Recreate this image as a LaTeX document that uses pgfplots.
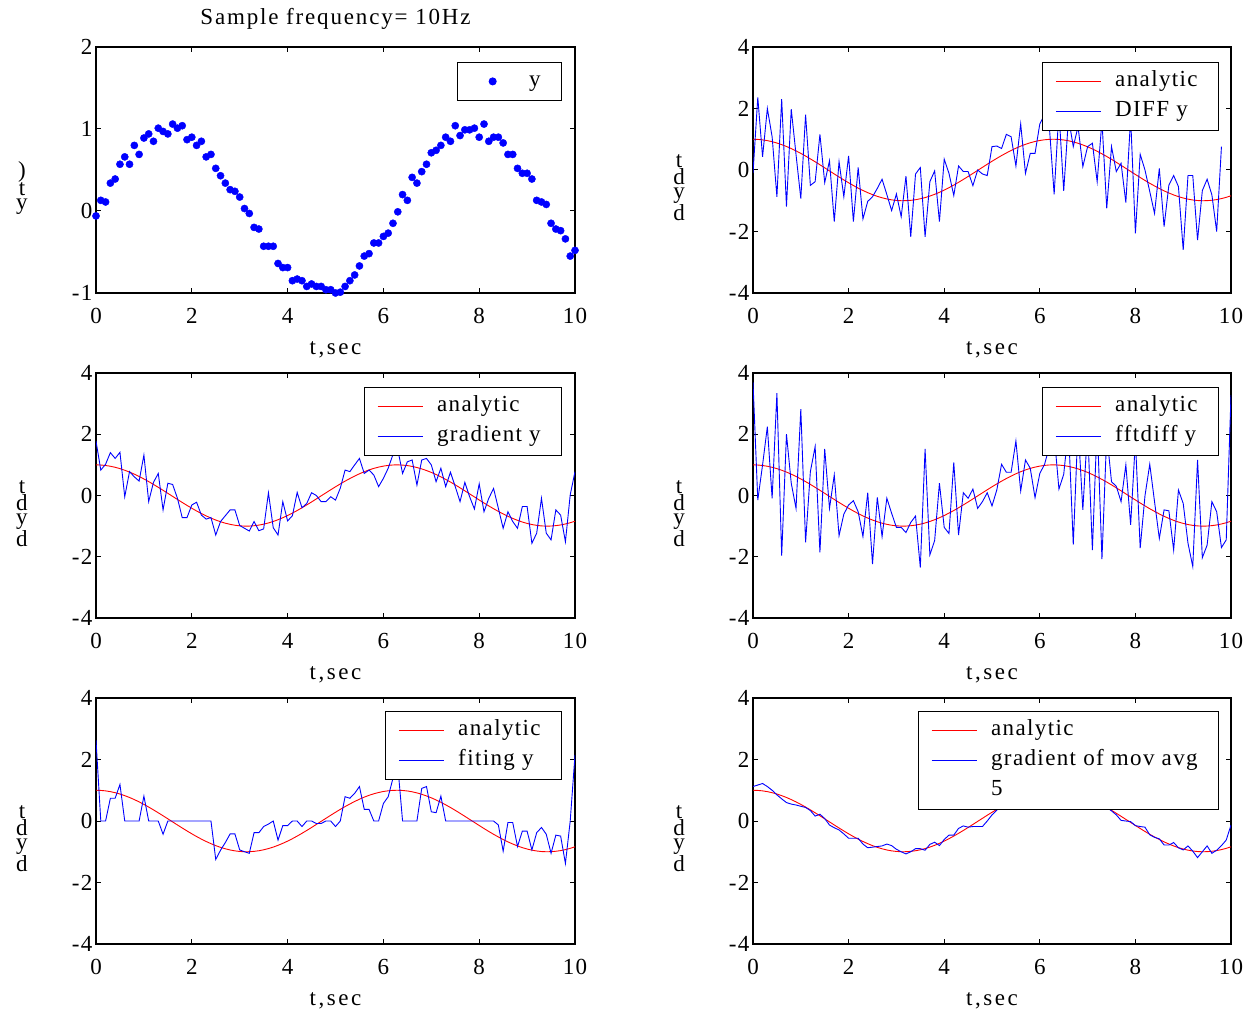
\documentclass[border=0pt]{standalone}
\usepackage{pgfplots}
\pgfplotsset{compat=1.18}
\usepackage{pgfplotstable}
\usepackage{fontspec}
\setmainfont{Liberation Serif}[LetterSpace=6]
\newfontfamily\titlefont{Liberation Serif}[LetterSpace=8]
\newfontfamily\labelfont{Liberation Serif}[LetterSpace=11]
\newcommand{\plotfont}{\fontsize{23}{27}\selectfont}
% legend text with the trailing room of the boxed legends
\newcommand{\entry}[1]{#1\hspace*{8pt}}

% analytic derivative, shared by every derivative panel
\pgfplotstableread{
t v
0.0 1.000
0.1 0.995
0.2 0.980
0.3 0.955
0.4 0.921
0.5 0.878
0.6 0.825
0.7 0.765
0.8 0.697
0.9 0.622
1.0 0.540
1.1 0.454
1.2 0.362
1.3 0.267
1.4 0.170
1.5 0.071
1.6 -0.029
1.7 -0.129
1.8 -0.227
1.9 -0.323
2.0 -0.416
2.1 -0.505
2.2 -0.589
2.3 -0.666
2.4 -0.737
2.5 -0.801
2.6 -0.857
2.7 -0.904
2.8 -0.942
2.9 -0.971
3.0 -0.990
3.1 -0.999
3.2 -0.998
3.3 -0.987
3.4 -0.967
3.5 -0.936
3.6 -0.897
3.7 -0.848
3.8 -0.791
3.9 -0.726
4.0 -0.654
4.1 -0.575
4.2 -0.490
4.3 -0.401
4.4 -0.307
4.5 -0.211
4.6 -0.112
4.7 -0.012
4.8 0.087
4.9 0.187
5.0 0.284
5.1 0.378
5.2 0.469
5.3 0.554
5.4 0.635
5.5 0.709
5.6 0.776
5.7 0.835
5.8 0.886
5.9 0.927
6.0 0.960
6.1 0.983
6.2 0.997
6.3 1.000
6.4 0.993
6.5 0.977
6.6 0.950
6.7 0.914
6.8 0.869
6.9 0.815
7.0 0.754
7.1 0.685
7.2 0.608
7.3 0.526
7.4 0.439
7.5 0.347
7.6 0.251
7.7 0.153
7.8 0.053
7.9 -0.046
8.0 -0.146
8.1 -0.244
8.2 -0.340
8.3 -0.432
8.4 -0.519
8.5 -0.602
8.6 -0.679
8.7 -0.748
8.8 -0.811
8.9 -0.866
9.0 -0.911
9.1 -0.948
9.2 -0.975
9.3 -0.993
9.4 -1.000
9.5 -0.997
9.6 -0.984
9.7 -0.962
9.8 -0.930
9.9 -0.889
10.0 -0.839
}\analytic

% noisy samples y(t)
\pgfplotstableread{
t v
0.0 -0.06
0.1 0.13
0.2 0.11
0.3 0.34
0.4 0.39
0.5 0.57
0.6 0.66
0.7 0.57
0.8 0.80
0.9 0.69
1.0 0.89
1.1 0.94
1.2 0.85
1.3 1.01
1.4 0.97
1.5 0.94
1.6 1.06
1.7 1.01
1.8 1.04
1.9 0.87
2.0 0.90
2.1 0.80
2.2 0.85
2.3 0.66
2.4 0.69
2.5 0.52
2.6 0.43
2.7 0.34
2.8 0.26
2.9 0.24
3.0 0.17
3.1 0.03
3.2 -0.03
3.3 -0.20
3.4 -0.22
3.5 -0.43
3.6 -0.43
3.7 -0.43
3.8 -0.64
3.9 -0.69
4.0 -0.69
4.1 -0.85
4.2 -0.83
4.3 -0.85
4.4 -0.92
4.5 -0.89
4.6 -0.92
4.7 -0.92
4.8 -0.96
4.9 -0.96
5.0 -1.00
5.1 -0.99
5.2 -0.92
5.3 -0.85
5.4 -0.78
5.5 -0.67
5.6 -0.55
5.7 -0.52
5.8 -0.39
5.9 -0.39
6.0 -0.31
6.1 -0.27
6.2 -0.15
6.3 -0.01
6.4 0.20
6.5 0.13
6.6 0.41
6.7 0.34
6.8 0.48
6.9 0.57
7.0 0.71
7.1 0.74
7.2 0.80
7.3 0.90
7.4 0.85
7.5 1.04
7.6 0.92
7.7 0.99
7.8 0.99
7.9 1.01
8.0 0.90
8.1 1.06
8.2 0.85
8.3 0.90
8.4 0.90
8.5 0.83
8.6 0.69
8.7 0.69
8.8 0.52
8.9 0.46
9.0 0.46
9.1 0.39
9.2 0.13
9.3 0.11
9.4 0.08
9.5 -0.15
9.6 -0.22
9.7 -0.24
9.8 -0.34
9.9 -0.55
10.0 -0.48
}\sampled

% forward difference
\pgfplotstableread{
t v
0.0 -0.10
0.1 2.36
0.2 0.43
0.3 2.00
0.4 1.08
0.5 -0.87
0.6 2.30
0.7 -1.19
0.8 1.98
0.9 0.50
1.0 -0.93
1.1 1.80
1.2 -0.50
1.3 -0.38
1.4 1.16
1.5 -0.41
1.6 0.30
1.7 -1.68
1.8 0.27
1.9 -0.87
2.0 0.46
2.1 -1.68
2.2 0.08
2.3 -1.59
2.4 -1.02
2.5 -0.87
2.6 -0.60
2.7 -0.30
2.8 -0.80
2.9 -1.32
3.0 -0.78
3.1 -1.52
3.2 -0.20
3.3 -2.17
3.4 -0.13
3.5 0.08
3.6 -2.17
3.7 -0.38
3.8 -0.03
3.9 -1.68
4.0 0.35
4.1 -0.11
4.2 -0.83
4.3 0.13
4.4 -0.05
4.5 -0.05
4.6 -0.51
4.7 0.00
4.8 -0.13
4.9 -0.18
5.0 0.76
5.1 0.78
5.2 0.70
5.3 1.16
5.4 1.08
5.5 0.13
5.6 1.50
5.7 -0.11
5.8 0.54
5.9 0.54
6.0 1.50
6.1 1.80
6.2 1.40
6.3 -0.79
6.4 1.90
6.5 -0.68
6.6 1.70
6.7 0.76
6.8 1.41
6.9 0.11
7.0 0.76
7.1 0.87
7.2 -0.38
7.3 1.60
7.4 -1.25
7.5 0.76
7.6 -0.05
7.7 0.22
7.8 -1.06
7.9 1.70
8.0 -2.06
8.1 0.51
8.2 0.00
8.3 -0.70
8.4 -1.41
8.5 0.05
8.6 -1.84
8.7 -0.49
8.8 -0.18
8.9 -0.54
9.0 -2.60
9.1 -0.18
9.2 -0.18
9.3 -2.28
9.4 -0.67
9.5 -0.30
9.6 -0.81
9.7 -2.00
9.8 0.76
}\diffy

% central-difference gradient
\pgfplotstableread{
t v
0.0 1.78
0.1 0.83
0.2 1.02
0.3 1.40
0.4 1.21
0.5 1.41
0.6 -0.04
0.7 0.78
0.8 0.61
0.9 0.47
1.0 1.32
1.1 -0.20
1.2 0.43
1.3 0.72
1.4 -0.47
1.5 0.40
1.6 0.36
1.7 -0.09
1.8 -0.72
1.9 -0.72
2.0 -0.31
2.1 -0.22
2.2 -0.64
2.3 -0.77
2.4 -0.72
2.5 -1.29
2.6 -0.85
2.7 -0.66
2.8 -0.47
2.9 -0.47
3.0 -0.98
3.1 -1.07
3.2 -1.16
3.3 -0.85
3.4 -1.15
3.5 -1.09
3.6 0.09
3.7 -1.05
3.8 -1.29
3.9 -0.20
4.0 -0.83
4.1 -0.66
4.2 0.10
4.3 -0.40
4.4 -0.26
4.5 0.09
4.6 0.00
4.7 -0.20
4.8 -0.20
4.9 -0.04
5.0 -0.15
5.1 0.24
5.2 0.83
5.3 0.78
5.4 1.00
5.5 1.21
5.6 0.72
5.7 0.83
5.8 0.67
5.9 0.29
6.0 0.56
6.1 0.89
6.2 1.34
6.3 1.50
6.4 0.72
6.5 1.10
6.6 1.16
6.7 0.34
6.8 1.16
6.9 1.21
7.0 1.00
7.1 0.45
7.2 0.89
7.3 0.29
7.4 0.76
7.5 0.29
7.6 -0.20
7.7 0.43
7.8 -0.04
7.9 -0.44
8.0 0.38
8.1 -0.53
8.2 -0.09
8.3 0.23
8.4 -0.42
8.5 -1.07
8.6 -0.53
8.7 -0.85
8.8 -1.07
8.9 -0.36
9.0 -0.36
9.1 -1.56
9.2 -1.23
9.3 -0.09
9.4 -1.23
9.5 -1.45
9.6 -0.47
9.7 -0.64
9.8 -1.51
9.9 0.02
10.0 0.78
}\grady

% spectral derivative
\pgfplotstableread{
t v
0.0 3.70
0.1 -0.15
0.2 1.00
0.3 2.25
0.4 -0.09
0.5 3.34
0.6 -1.96
0.7 2.00
0.8 0.40
0.9 -0.42
1.0 2.82
1.1 -1.53
1.2 0.78
1.3 1.60
1.4 -1.86
1.5 1.52
1.6 -0.42
1.7 0.67
1.8 -1.31
1.9 -0.61
2.0 -0.31
2.1 -0.17
2.2 -0.53
2.3 -1.34
2.4 0.09
2.5 -2.24
2.6 -0.06
2.7 -1.34
2.8 -0.09
2.9 -0.58
3.0 -1.04
3.1 -1.04
3.2 -1.21
3.3 -0.88
3.4 -0.67
3.5 -2.35
3.6 1.52
3.7 -1.94
3.8 -1.47
3.9 0.40
4.0 -1.04
4.1 -1.24
4.2 1.08
4.3 -1.29
4.4 0.09
4.5 -0.09
4.6 0.21
4.7 -0.42
4.8 -0.20
4.9 0.09
5.0 -0.34
5.1 0.18
5.2 1.02
5.3 0.76
5.4 0.76
5.5 1.78
5.6 0.15
5.7 1.16
5.8 0.89
5.9 -0.07
6.0 0.72
6.1 1.02
6.2 1.60
6.3 2.00
6.4 0.21
6.5 0.69
6.6 2.20
6.7 -1.60
6.8 2.30
6.9 -0.47
7.0 2.20
7.1 -1.78
7.2 2.40
7.3 -2.08
7.4 2.00
7.5 0.45
7.6 0.30
7.7 -0.20
7.8 1.00
7.9 -0.96
8.0 1.80
8.1 -1.72
8.2 -0.01
8.3 1.02
8.4 -0.20
8.5 -1.40
8.6 -0.47
8.7 -0.50
8.8 -1.78
8.9 0.18
9.0 -0.26
9.1 -1.56
9.2 -2.32
9.3 1.16
9.4 -2.03
9.5 -1.62
9.6 -0.20
9.7 -0.53
9.8 -1.70
9.9 -1.45
10.0 3.28
}\fftdiffy

% local polynomial fit
\pgfplotstableread{
t v
0.0 2.63
0.1 0
0.2 0
0.3 0.74
0.4 0.74
0.5 1.19
0.6 0
0.7 0
0.8 0
0.9 0
1.0 0.81
1.1 0
1.2 0
1.3 0
1.4 -0.43
1.5 0
1.6 0
1.7 0
1.8 0
1.9 0
2.0 0
2.1 0
2.2 0
2.3 0
2.4 0
2.5 -1.25
2.6 -0.95
2.7 -0.70
2.8 -0.42
2.9 -0.42
3.0 -0.94
3.1 -1.00
3.2 -1.05
3.3 -0.38
3.4 -0.38
3.5 -0.18
3.6 -0.10
3.7 0
3.8 -0.62
3.9 -0.15
4.0 -0.15
4.1 0
4.2 0
4.3 -0.18
4.4 0
4.5 0
4.6 -0.08
4.7 -0.08
4.8 0
4.9 0
5.0 -0.18
5.1 0
5.2 0.79
5.3 0.74
5.4 0.90
5.5 1.12
5.6 0.38
5.7 0.38
5.8 0
5.9 0
6.0 0.57
6.1 0.79
6.2 1.39
6.3 1.80
6.4 0
6.5 0
6.6 0
6.7 0
6.8 1.06
6.9 1.12
7.0 0.30
7.1 0.27
7.2 0.81
7.3 0
7.4 0
7.5 0
7.6 0
7.7 0
7.8 0
7.9 0
8.0 0
8.1 0
8.2 0
8.3 0
8.4 -0.13
8.5 -0.98
8.6 -0.05
8.7 -0.05
8.8 -0.83
8.9 -0.33
9.0 -0.33
9.1 -0.94
9.2 -0.38
9.3 -0.21
9.4 -0.43
9.5 -1.05
9.6 -0.46
9.7 -0.49
9.8 -1.38
9.9 0
10.0 2.15
}\fity

% gradient of the 5-point moving average
\pgfplotstableread{
t v
0.0 1.12
0.1 1.17
0.2 1.22
0.3 1.12
0.4 1.00
0.5 0.85
0.6 0.72
0.7 0.60
0.8 0.55
0.9 0.52
1.0 0.48
1.1 0.44
1.2 0.34
1.3 0.16
1.4 0.22
1.5 0.08
1.6 -0.13
1.7 -0.22
1.8 -0.29
1.9 -0.42
2.0 -0.56
2.1 -0.56
2.2 -0.56
2.3 -0.75
2.4 -0.87
2.5 -0.85
2.6 -0.83
2.7 -0.81
2.8 -0.75
2.9 -0.80
3.0 -0.92
3.1 -1.00
3.2 -1.07
3.3 -1.00
3.4 -0.90
3.5 -0.90
3.6 -0.95
3.7 -0.76
3.8 -0.69
3.9 -0.80
4.0 -0.60
4.1 -0.46
4.2 -0.46
4.3 -0.24
4.4 -0.16
4.5 -0.20
4.6 -0.18
4.7 -0.18
4.8 -0.18
4.9 0.00
5.0 0.20
5.1 0.35
5.2 0.50
5.3 0.60
5.4 0.66
5.5 0.72
5.6 0.80
5.7 0.85
5.8 0.90
5.9 0.93
6.0 0.97
6.1 0.98
6.2 1.00
6.3 1.02
6.4 0.99
6.5 0.97
6.6 0.95
6.7 0.90
6.8 0.86
6.9 0.80
7.0 0.75
7.1 0.68
7.2 0.60
7.3 0.52
7.4 0.44
7.5 0.33
7.6 0.20
7.7 0.02
7.8 0.00
7.9 -0.02
8.0 -0.15
8.1 -0.18
8.2 -0.20
8.3 -0.45
8.4 -0.53
8.5 -0.58
8.6 -0.78
8.7 -0.78
8.8 -0.70
8.9 -0.87
9.0 -0.94
9.1 -0.81
9.2 -0.98
9.3 -1.19
9.4 -1.00
9.5 -0.81
9.6 -1.05
9.7 -0.95
9.8 -0.80
9.9 -0.62
10.0 -0.13
}\movavg

\pgfplotsset{
  % 45pt-wide legend sample: a full line for line plots, one centred dot for marks
  legend image code/.code={%
    \path[draw=none, fill=none] (0pt,-2pt) rectangle (45pt,2pt);
    \draw[mark repeat=2, mark phase=2, #1]
      plot coordinates {(0pt,0pt) (22.5pt,0pt) (45pt,0pt)};},
  panel/.style={
    scale only axis, width=479pt, height=246pt,
    xmin=0, xmax=10, xtick={0,2,4,6,8,10},
    tick pos=both, tick align=inside, major tick length=5pt,
    axis line style={line width=1.1pt},
    every tick/.style={black, line width=1pt},
    font=\plotfont,
    /pgf/number format/assume math mode=true,
    xlabel={t,sec},
    xlabel style={font=\plotfont\labelfont, at={(axis description cs:0.5,0)}, anchor=center, yshift=-57pt},
    xticklabel style={yshift=-12pt},
    ylabel style={rotate=-90, align=center, font=\fontsize{23}{14}\selectfont,
      at={(axis description cs:0,0.5)}, anchor=center, xshift=-74pt, yshift=-18pt},
    legend cell align=left,
    legend style={draw=black, line width=0.8pt, fill=white, anchor=north east,
      inner xsep=13pt, inner ysep=7pt, row sep=6pt, column sep=14pt,
      nodes={inner xsep=0pt, inner ysep=2pt, text height=15pt, text depth=5pt}},
  },
  dpanel/.style={panel, ymin=-4, ymax=4, ytick={-4,-2,0,2,4}, ylabel={t\\d\\y\\d}},
  exact/.style={draw=red, color=red, line width=0.9pt},
  est/.style={draw=blue, color=blue, line width=0.9pt},
  dots/.style={only marks, mark=*, mark size=3.6pt, mark options={draw=blue, fill=blue}},
}

\begin{document}
\begin{tikzpicture}
\path[use as bounding box] (0pt,0pt) rectangle (1249pt,1010pt);

% forward difference
\begin{axis}[dpanel, at={(753pt,717pt)}, anchor=south west, width=478pt,
  legend style={at={(axis description cs:0.975,0.939)}}]
\addplot[exact, forget plot] table[x=t, y=v] {\analytic};
\addplot[est, forget plot] table[x=t, y=v] {\diffy};
\addlegendimage{exact}
\addlegendentry{\entry{analytic}}
\addlegendimage{est}
\addlegendentry{\entry{DIFF y}}
\end{axis}

% gradient
\begin{axis}[dpanel, at={(96pt,392pt)}, anchor=south west, height=245pt,
  legend style={at={(axis description cs:0.973,0.943)}}]
\addplot[exact, forget plot] table[x=t, y=v] {\analytic};
\addplot[est, forget plot] table[x=t, y=v] {\grady};
\addlegendimage{exact}
\addlegendentry{\entry{analytic}}
\addlegendimage{est}
\addlegendentry{\entry{gradient y}}
\end{axis}

% spectral derivative
\begin{axis}[dpanel, at={(753pt,392pt)}, anchor=south west, width=478pt, height=245pt,
  legend style={at={(axis description cs:0.975,0.943)}}]
\addplot[exact, forget plot] table[x=t, y=v] {\analytic};
\addplot[est, forget plot] table[x=t, y=v] {\fftdiffy};
\addlegendimage{exact}
\addlegendentry{\entry{analytic}}
\addlegendimage{est}
\addlegendentry{\entry{fftdiff y}}
\end{axis}

% polynomial fit
\begin{axis}[dpanel, at={(96pt,66pt)}, anchor=south west,
  legend style={at={(axis description cs:0.973,0.947)}}]
\addplot[exact, forget plot] table[x=t, y=v] {\analytic};
\addplot[est, forget plot] table[x=t, y=v] {\fity};
\addlegendimage{exact}
\addlegendentry{\entry{analytic}}
\addlegendimage{est}
\addlegendentry{\entry{fiting y}}
\end{axis}

% moving average
\begin{axis}[dpanel, at={(753pt,66pt)}, anchor=south west, width=478pt,
  legend style={at={(axis description cs:0.975,0.947)}}]
\addplot[exact, forget plot] table[x=t, y=v] {\analytic};
\addplot[est, forget plot] table[x=t, y=v] {\movavg};
\addlegendimage{exact}
\addlegendentry{\entry{analytic}}
\addlegendimage{est}
\addlegendentry{\entry{gradient of mov avg}}
\addlegendimage{empty legend}
\addlegendentry{5}
\end{axis}

% y(t) samples
\begin{axis}[panel, at={(96pt,717pt)}, anchor=south west,
  ymin=-1, ymax=2, ytick={-1,0,1,2}, ylabel={)\\t\\y},
  title={Sample frequency= 10Hz},
  title style={font=\plotfont\titlefont, at={(axis description cs:0.5,1)}, anchor=center, yshift=22pt},
  legend style={at={(axis description cs:0.973,0.939)}}]
\addplot[dots] table[x=t, y=v] {\sampled};
\addlegendentry{\entry{y}}
\end{axis}
\end{tikzpicture}
\end{document}
